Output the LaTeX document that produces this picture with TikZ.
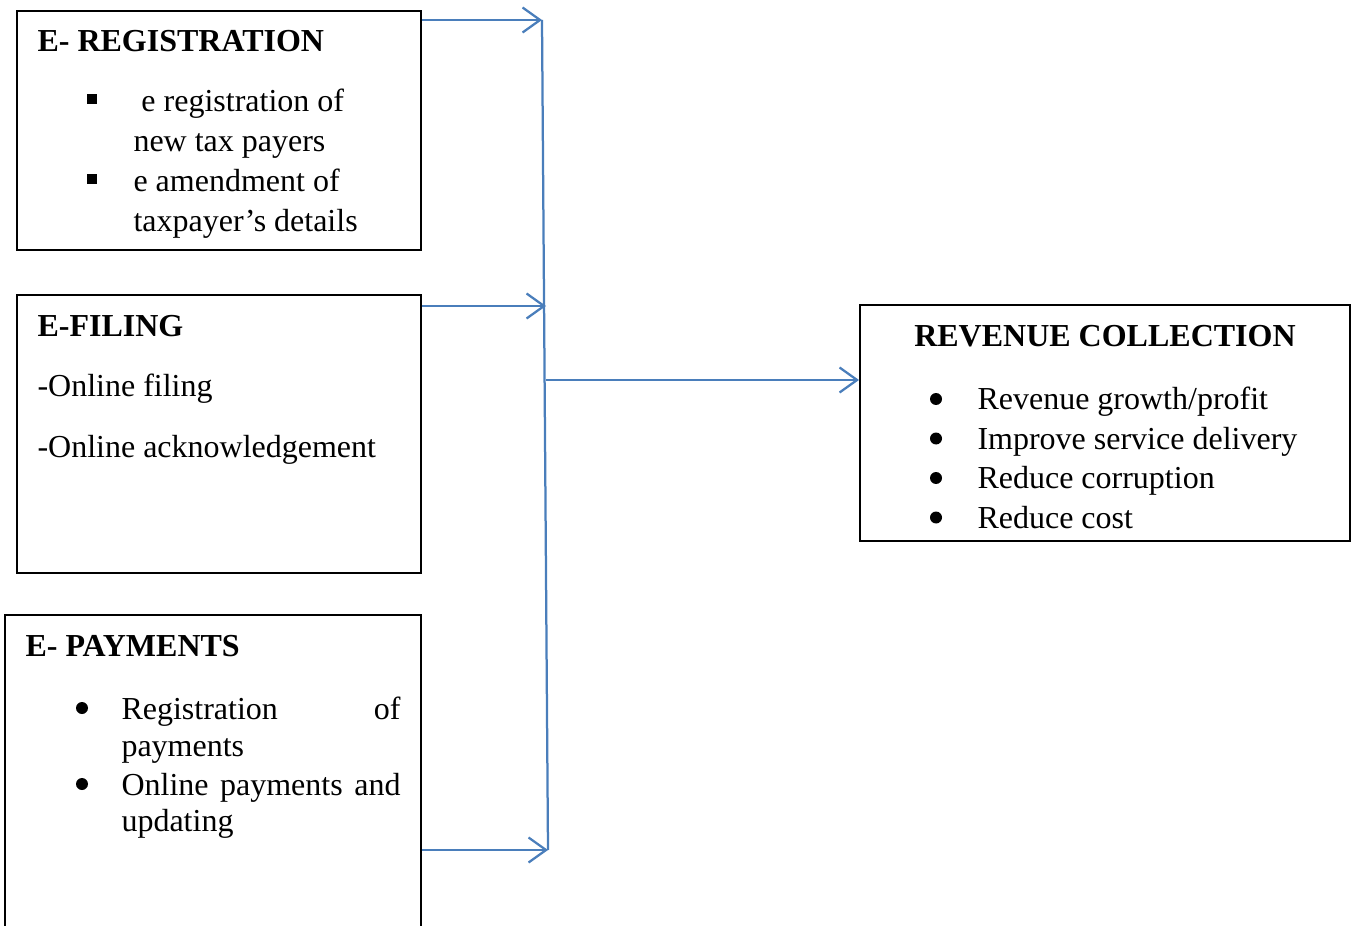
\documentclass[tikz,border=0pt]{standalone}
\usepackage{fontspec}
\setmainfont{Liberation Serif}
\usetikzlibrary{arrows.meta, fit}
\definecolor{wordblue}{RGB}{74,126,187}

\begin{document}
\fontsize{12.8pt}{15pt}\selectfont
\begin{tikzpicture}[x=0.4pt, y=-0.4pt,
    box/.style={draw, line width=0.8pt, inner sep=0pt},
    head/.style={anchor=base west, font=\bfseries, inner sep=0pt},
    txt/.style={anchor=base west, inner sep=0pt},
    sqbullet/.style={fill, inner sep=0pt, minimum size=4pt},
    dotbullet/.style={circle, fill, inner sep=0pt, minimum size=4.8pt},
    link/.style={wordblue, line width=0.9pt, -{Straight Barb[length=7pt, width=10pt]}}]

        % page size of the reference
        \useasboundingbox (0,0) rectangle (1355,926);

        % the four boxes
        \node[box, fit={(17,11) (421,250)}] (reg) {};
        \node[box, fit={(17,295) (421,573)}] (fil) {};
        \node[box, fit={(5,615) (421,940)}] (pay) {};
        \node[box, fit={(860,305) (1350,541)}] (rev) {};

        % E- REGISTRATION
        \node[head] (regtitle) at (37,51.5) {E- REGISTRATION};
        \foreach \y in {99,179}
                \node[sqbullet] at (92,\y) {};
        \node[txt] (reg1) at (141,112) {e registration of};
        \node[txt] (reg2) at (133,152) {new tax payers};
        \node[txt] (reg3) at (133,192) {e amendment of};
        \node[txt] (reg4) at (133,231) {taxpayer’s details};

        % E-FILING
        \node[head] (filtitle) at (37,336.5) {E-FILING};
        \node[txt] (fil1) at (37,396) {-Online filing};
        \node[txt] (fil2) at (37,457) {-Online acknowledgement};

        % E- PAYMENTS
        \node[head] (paytitle) at (25,656.5) {E- PAYMENTS};
        \foreach \y in {708,784}
                \node[dotbullet] at (82,\y) {};
        \node[txt] (pay1) at (121,719) {\makebox[111.6pt][s]{Registration\hfill of}};
        \node[txt] (pay2) at (121,756) {payments};
        \node[txt] (pay3) at (121,795) {\makebox[111.6pt][s]{Online payments and}};
        \node[txt] (pay4) at (121,831) {updating};

        % REVENUE COLLECTION
        \node[font=\bfseries, anchor=base, inner sep=0pt] (revtitle) at (1105,346.5) {REVENUE COLLECTION};
        \foreach \t [count=\i] in {Revenue growth/profit, Improve service delivery, Reduce corruption, Reduce cost} {
                \node[dotbullet] at (936,{359.5+39.5*\i}) {};
                \node[txt] (rev\i) at (977,{370+39.5*\i}) {\t};
        }

        % connectors
        \coordinate (j1) at (542,20);
        \coordinate (j2) at (546,306);
        \coordinate (j3) at (548,850);
        \coordinate (jm) at (546,380);
        \draw[wordblue, line width=0.9pt] (j1) -- (j3);
        \draw[link] (reg.east |- j1) -- (j1);
        \draw[link] (fil.east |- j2) -- (j2);
        \draw[link] (pay.east |- j3) -- (j3);
        \draw[link] (jm) -- (rev.west |- jm);

\end{tikzpicture}
\end{document}
